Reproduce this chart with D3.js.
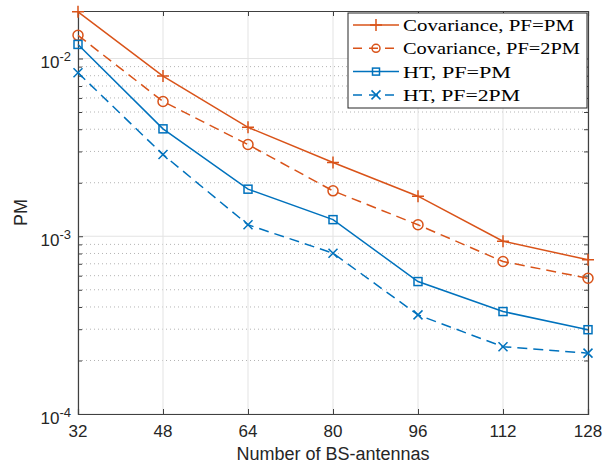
<!DOCTYPE html>
<html>
<head>
<meta charset="utf-8">
<script src="https://cdn.jsdelivr.net/npm/d3@7"></script>
<style>
  body { margin: 0; background: #fff; }
  svg { display: block; }
</style>
</head>
<body>
<div id="chart"></div>
<script>
// data
const antennas = [32, 48, 64, 80, 96, 112, 128];
const covPF1 = [0.0183, 0.00796, 0.00410, 0.00260, 0.00168, 0.000938, 0.000737];
const covPF2 = [0.0135, 0.00573, 0.00328, 0.00180, 0.00116, 0.000721, 0.000580];
const htPF1 = [0.0120, 0.00402, 0.00184, 0.00124, 0.000556, 0.000377, 0.000298];
const htPF2 = [0.00831, 0.00288, 0.00116, 0.000803, 0.000361, 0.000239, 0.000220];
const legendLabels = ['Covariance, PF=PM', 'Covariance, PF=2PM', 'HT, PF=PM', 'HT, PF=2PM'];
const yTickExp = [-4, -3, -2];

const orange = '#D95319';
const blue = '#0072BD';

const series = [
    {name: legendLabels[0], values: covPF1, color: orange, dash: null, marker: 'plus'},
    {name: legendLabels[1], values: covPF2, color: orange, dash: '10,6', marker: 'circle'},
    {name: legendLabels[2], values: htPF1, color: blue, dash: null, marker: 'square'},
    {name: legendLabels[3], values: htPF2, color: blue, dash: '10,6', marker: 'cross'}
];

const width = 613;
const height = 466;
const margin = {left: 78, right: 25, top: 11, bottom: 52};
const plotW = width - margin.left - margin.right;
const plotH = height - margin.top - margin.bottom;

const svg = d3.select('#chart')
    .append('svg')
    .attr('width', width)
    .attr('height', height);

const x = d3.scaleLinear().domain([32, 128]).range([0, plotW]);
const y = d3.scaleLog().domain([1e-4, 0.0185]).range([plotH, 0]);

const g = svg.append('g')
    .attr('transform', `translate(${margin.left},${margin.top})`);

// minor grid (dotted) for the log axis
let minor = [];
for (let e = -4; e <= -2; e++) {
    for (let m = 2; m <= 9; m++) {
        let v = m * Math.pow(10, e);
        if (v <= y.domain()[1]) minor.push(v);
    }
}
g.selectAll('.minor-grid')
    .data(minor)
    .enter().append('line')
    .attr('x1', 0).attr('x2', plotW)
    .attr('y1', d => y(d)).attr('y2', d => y(d))
    .attr('stroke', '#b4b4b4')
    .attr('stroke-width', 1)
    .attr('stroke-dasharray', '1,3');

// major grid
const majors = yTickExp.map(e => Math.pow(10, e));
g.selectAll('.ygrid')
    .data(majors)
    .enter().append('line')
    .attr('x1', 0).attr('x2', plotW)
    .attr('y1', d => y(d)).attr('y2', d => y(d))
    .attr('stroke', '#e3e3e3')
    .attr('stroke-width', 1);
g.selectAll('.xgrid')
    .data(antennas)
    .enter().append('line')
    .attr('x1', d => x(d)).attr('x2', d => x(d))
    .attr('y1', 0).attr('y2', plotH)
    .attr('stroke', '#e3e3e3')
    .attr('stroke-width', 1);

// axes (ticks pointing inward, box on)
const axisColor = '#404040';
const xAxisB = d3.axisBottom(x).tickValues(antennas).tickSize(-5).tickFormat('');
const xAxisT = d3.axisTop(x).tickValues(antennas).tickSize(-5).tickFormat('');
const yAxisL = d3.axisLeft(y).tickValues(majors).tickSize(-5).tickFormat('');
const yAxisR = d3.axisRight(y).tickValues(majors).tickSize(-5).tickFormat('');
const yMinorL = d3.axisLeft(y).tickValues(minor).tickSize(-4).tickFormat('');
const yMinorR = d3.axisRight(y).tickValues(minor).tickSize(-4).tickFormat('');

let drawAxis = (axis, tr) => {
    let a = g.append('g').attr('transform', tr).call(axis);
    a.selectAll('path').attr('stroke', axisColor).attr('stroke-width', 1.2);
    a.selectAll('line').attr('stroke', axisColor).attr('stroke-width', 1);
    return a;
};
drawAxis(yMinorL, 'translate(0,0)').select('path').remove();
drawAxis(yMinorR, `translate(${plotW},0)`).select('path').remove();
drawAxis(xAxisB, `translate(0,${plotH})`);
drawAxis(xAxisT, 'translate(0,0)');
drawAxis(yAxisL, 'translate(0,0)');
drawAxis(yAxisR, `translate(${plotW},0)`);

// tick labels
const tickFont = 'Liberation Sans, Arial, sans-serif';
g.selectAll('.xlab')
    .data(antennas)
    .enter().append('text')
    .attr('x', d => x(d))
    .attr('y', plotH + 23)
    .attr('text-anchor', 'middle')
    .attr('font-family', tickFont)
    .attr('font-size', 17)
    .attr('fill', '#262626')
    .text(d => d);

yTickExp.forEach(e => {
    let t = g.append('text')
        .attr('x', -7)
        .attr('y', y(Math.pow(10, e)) + 10)
        .attr('text-anchor', 'end')
        .attr('font-family', tickFont)
        .attr('font-size', 17)
        .attr('fill', '#262626');
    t.append('tspan').text('10');
    t.append('tspan')
        .attr('dy', -7)
        .attr('font-size', 13)
        .text(String(e));
});

// axis titles
svg.append('text')
    .attr('x', margin.left + plotW / 2)
    .attr('y', height - 6)
    .attr('text-anchor', 'middle')
    .attr('font-family', tickFont)
    .attr('font-size', 18)
    .attr('fill', '#262626')
    .text('Number of BS-antennas');

svg.append('text')
    .attr('transform', `translate(27,${margin.top + plotH / 2}) rotate(-90)`)
    .attr('text-anchor', 'middle')
    .attr('font-family', tickFont)
    .attr('font-size', 18)
    .attr('fill', '#262626')
    .text('PM');

// markers
let drawMarker = (sel, type, color) => {
    if (type == 'plus') {
        sel.append('path').attr('d', 'M-6,0H6M0,-6V6');
    } else if (type == 'circle') {
        sel.append('circle').attr('r', 5).attr('fill', 'none');
    } else if (type == 'square') {
        sel.append('rect').attr('x', -4).attr('y', -4).attr('width', 8).attr('height', 8).attr('fill', 'none');
    } else {
        sel.append('path').attr('d', 'M-4.5,-4.5L4.5,4.5M-4.5,4.5L4.5,-4.5');
    }
    sel.selectAll('*').attr('stroke', color).attr('stroke-width', 1.5);
};

const line = d3.line()
    .x((d, i) => x(antennas[i]))
    .y(d => y(d));

series.forEach(s => {
    g.append('path')
        .attr('d', line(s.values))
        .attr('fill', 'none')
        .attr('stroke', s.color)
        .attr('stroke-width', 1.5)
        .attr('stroke-dasharray', s.dash);
    s.values.forEach((v, i) => {
        let m = g.append('g').attr('transform', `translate(${x(antennas[i])},${y(v)})`);
        drawMarker(m, s.marker, s.color);
    });
});

// legend
const legendTextW = [171, 177, 108, 117];
const lg = svg.append('g').attr('transform', 'translate(348,13)');
lg.append('rect')
    .attr('width', 239)
    .attr('height', 95)
    .attr('fill', '#fff')
    .attr('stroke', '#262626')
    .attr('stroke-width', 1);
series.forEach((s, i) => {
    let row = lg.append('g').attr('transform', `translate(0,${12 + i * 23.3})`);
    row.append('line')
        .attr('x1', 5).attr('x2', 51)
        .attr('y1', 0).attr('y2', 0)
        .attr('stroke', s.color)
        .attr('stroke-width', 1.5)
        .attr('stroke-dasharray', s.dash ? '9,7' : null);
    let m = row.append('g').attr('transform', 'translate(28,0)');
    drawMarker(m, s.marker, s.color);
    m.selectAll('circle').attr('r', 4);
    m.selectAll('rect').attr('x', -3.5).attr('y', -3.5).attr('width', 7).attr('height', 7);
    row.append('text')
        .attr('x', 55)
        .attr('y', 6)
        .attr('font-family', 'Liberation Serif, Times New Roman, serif')
        .attr('font-size', 17.5)
        .attr('fill', '#000')
        .attr('textLength', legendTextW[i])
        .attr('lengthAdjust', 'spacingAndGlyphs')
        .text(s.name);
});
</script>
</body>
</html>
